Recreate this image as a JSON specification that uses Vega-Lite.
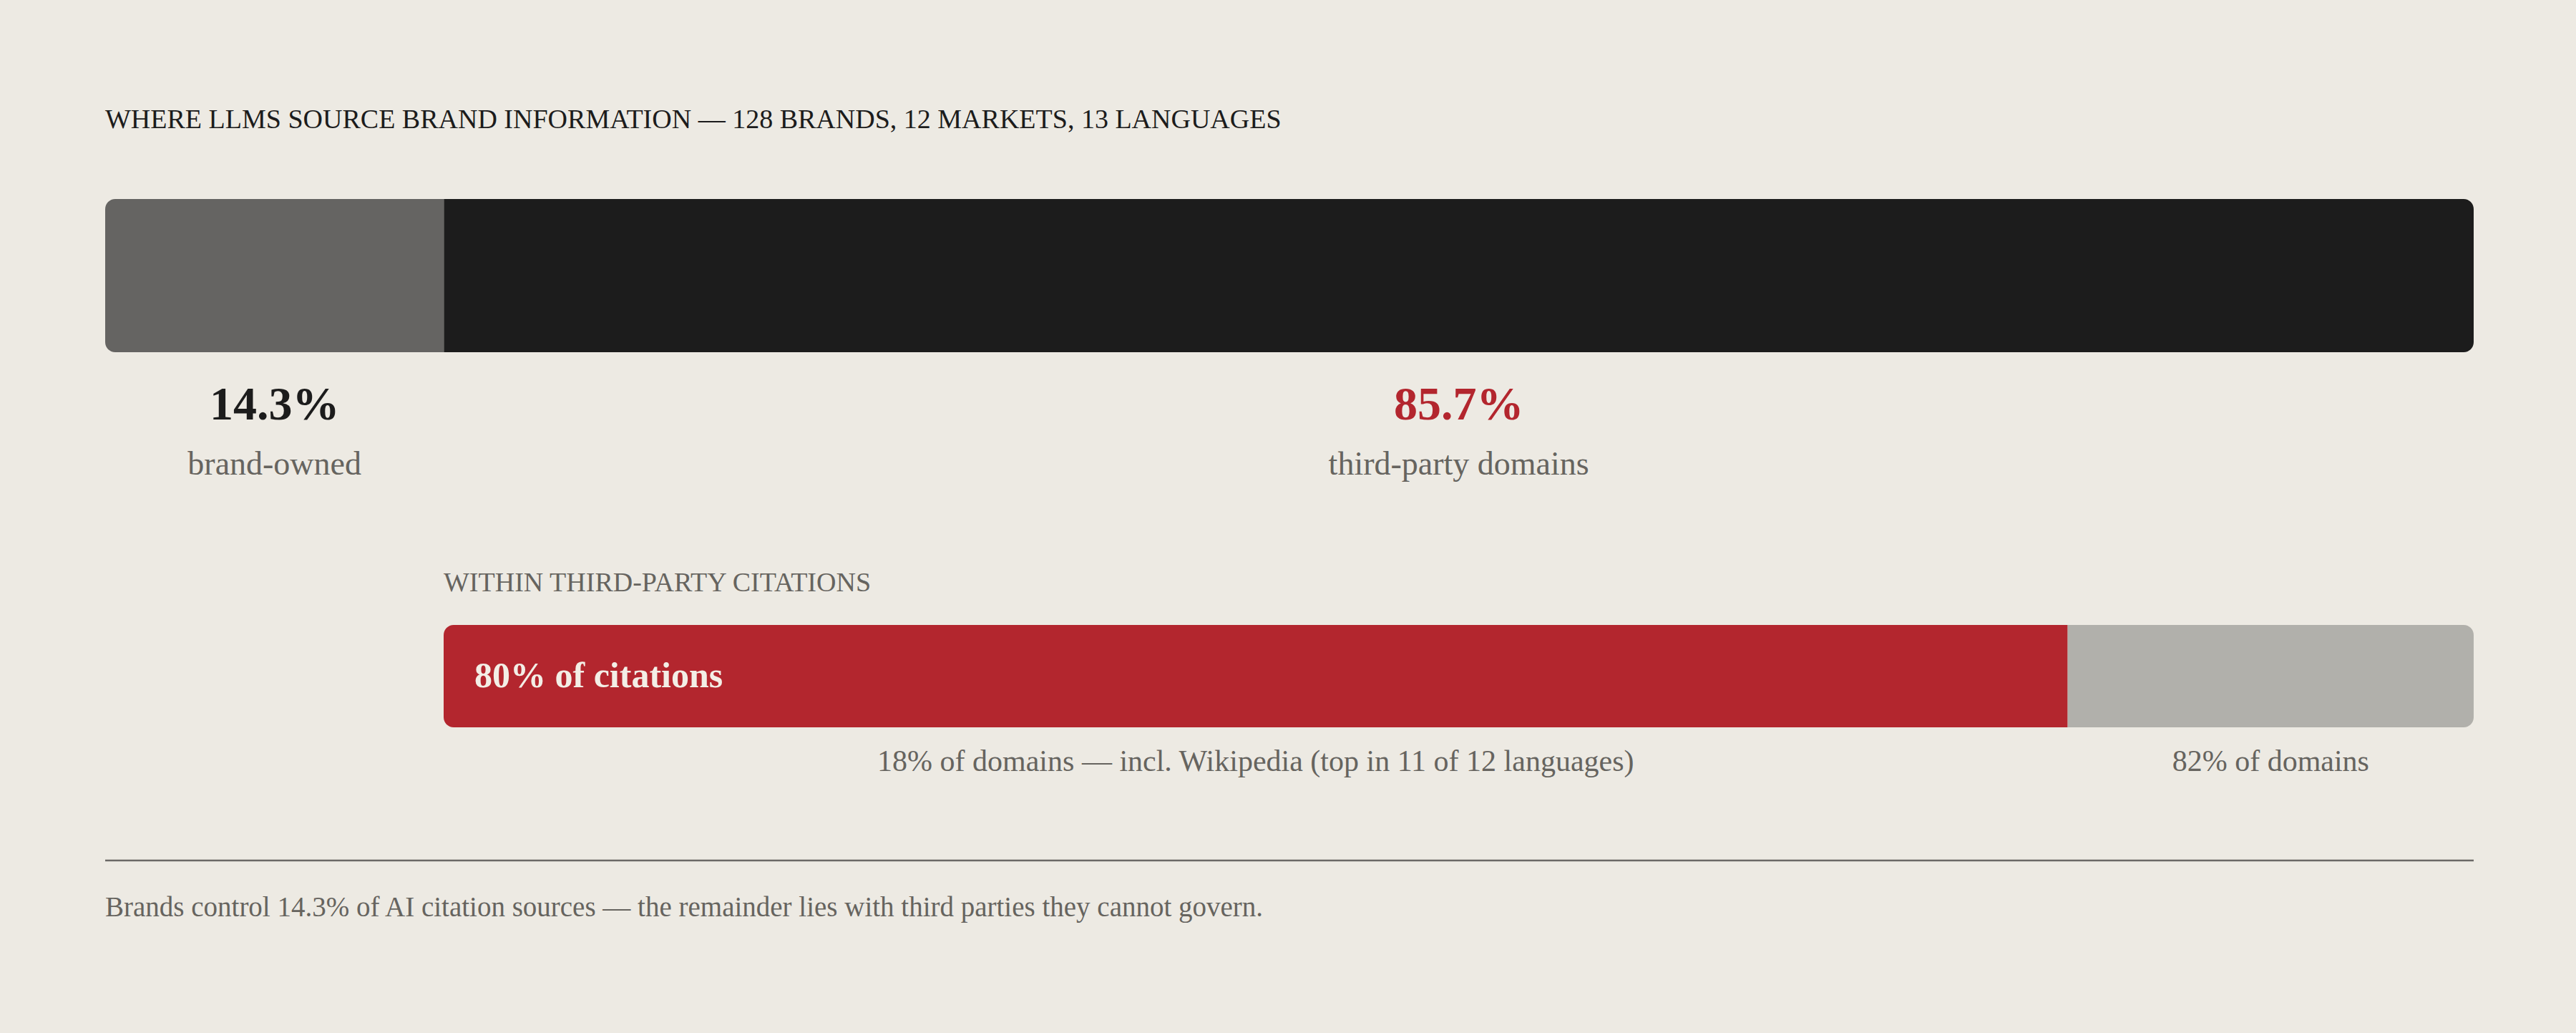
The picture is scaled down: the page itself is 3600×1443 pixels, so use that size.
{
  "$schema": "https://vega.github.io/schema/vega-lite/v6.json",
  "background": "#edeae3",
  "autosize": {"type": "pad"},
  "padding": {"left": 145, "top": 149, "right": 145, "bottom": 160},
  "config": {
    "view": {"stroke": null},
    "font": "Liberation Serif",
    "text": {"font": "Liberation Serif"}
  },
  "spacing": 381,
  "bounds": "flush",
  "vconcat": [
    {
      "width": 3310,
      "height": 214,
      "data": {
        "values": [
          {"segment": "brand-owned", "share": 0.143},
          {"segment": "third-party domains", "share": 0.857}
        ]
      },
      "transform": [
        {"stack": "share", "groupby": [], "as": ["share_start", "share_end"]}
      ],
      "layer": [
        {
          "transform": [{"filter": "datum.segment === 'brand-owned'"}],
          "mark": {"type": "bar", "color": "#656462", "cornerRadiusTopLeft": 14, "cornerRadiusBottomLeft": 14},
          "encoding": {
            "x": {"field": "share_start", "type": "quantitative", "scale": {"domain": [0, 1], "nice": false}, "axis": null},
            "x2": {"field": "share_end"},
            "y": {"value": 0},
            "y2": {"value": "height"}
          }
        },
        {
          "transform": [{"filter": "datum.segment !== 'brand-owned'"}],
          "mark": {"type": "bar", "color": "#1c1c1c", "cornerRadiusTopRight": 14, "cornerRadiusBottomRight": 14},
          "encoding": {
            "x": {"field": "share_start", "type": "quantitative", "axis": null},
            "x2": {"field": "share_end"},
            "y": {"value": 0},
            "y2": {"value": "height"}
          }
        },
        {
          "data": {"values": [{"title": "WHERE LLMS SOURCE BRAND INFORMATION — 128 BRANDS, 12 MARKETS, 13 LANGUAGES"}]},
          "mark": {"type": "text", "align": "left", "baseline": "middle", "fontSize": 38, "color": "#1c1c1c", "dy": -110},
          "encoding": {
            "x": {"datum": 0},
            "y": {"value": 0},
            "text": {"field": "title"}
          }
        },
        {
          "mark": {"type": "text", "align": "center", "baseline": "middle", "fontSize": 66, "fontWeight": "bold", "dy": 74},
          "encoding": {
            "x": {"field": "share", "type": "quantitative", "stack": "zero", "bandPosition": 0.5},
            "y": {"value": "height"},
            "text": {"field": "share", "format": ".1%"},
            "color": {"condition": {"test": "datum.segment === 'brand-owned'", "value": "#1c1c1c"}, "value": "#b3262e"}
          }
        },
        {
          "mark": {"type": "text", "align": "center", "baseline": "middle", "fontSize": 46, "color": "#66645f", "dy": 157},
          "encoding": {
            "x": {"field": "share", "type": "quantitative", "stack": "zero", "bandPosition": 0.5},
            "y": {"value": "height"},
            "text": {"field": "segment"}
          }
        }
      ]
    },
    {
      "spacing": 186,
      "bounds": "flush",
      "vconcat": [
        {
          "width": 3310,
          "height": 143,
          "data": {
            "values": [
              {"segment": "top domains", "share": 0.8, "inside": "80% of citations", "domains": "18% of domains — incl. Wikipedia (top in 11 of 12 languages)"},
              {"segment": "other domains", "share": 0.2, "inside": "", "domains": "82% of domains"}
            ]
          },
          "transform": [
            {"stack": "share", "groupby": [], "as": ["share_start", "share_end"]}
          ],
          "layer": [
            {
              "transform": [{"filter": "datum.segment === 'top domains'"}],
              "mark": {"type": "bar", "color": "#b3262e", "cornerRadiusTopLeft": 14, "cornerRadiusBottomLeft": 14},
              "encoding": {
                "x": {"field": "share_start", "type": "quantitative", "scale": {"domain": [0, 1], "nice": false, "range": [473, 3310]}, "axis": null},
                "x2": {"field": "share_end"},
                "y": {"value": 0},
                "y2": {"value": "height"}
              }
            },
            {
              "transform": [{"filter": "datum.segment !== 'top domains'"}],
              "mark": {"type": "bar", "color": "#b1b0ab", "cornerRadiusTopRight": 14, "cornerRadiusBottomRight": 14},
              "encoding": {
                "x": {"field": "share_start", "type": "quantitative", "axis": null},
                "x2": {"field": "share_end"},
                "y": {"value": 0},
                "y2": {"value": "height"}
              }
            },
            {
              "data": {"values": [{"label": "WITHIN THIRD-PARTY CITATIONS"}]},
              "mark": {"type": "text", "align": "left", "baseline": "middle", "fontSize": 38, "color": "#66645f", "dy": -58},
              "encoding": {
                "x": {"datum": 0},
                "y": {"value": 0},
                "text": {"field": "label"}
              }
            },
            {
              "transform": [{"filter": "datum.segment === 'top domains'"}],
              "mark": {"type": "text", "align": "left", "baseline": "middle", "fontSize": 50, "fontWeight": "bold", "color": "#f3eee6", "dx": 43},
              "encoding": {
                "x": {"field": "share_start", "type": "quantitative"},
                "text": {"field": "inside"}
              }
            },
            {
              "mark": {"type": "text", "align": "center", "baseline": "middle", "fontSize": 42, "color": "#66645f", "dy": 48},
              "encoding": {
                "x": {"field": "share", "type": "quantitative", "stack": "zero", "bandPosition": 0.5},
                "y": {"value": "height"},
                "text": {"field": "domains"}
              }
            }
          ]
        },
        {
          "width": 3310,
          "height": 1,
          "data": {
            "values": [
              {"note": "Brands control 14.3% of AI citation sources — the remainder lies with third parties they cannot govern."}
            ]
          },
          "layer": [
            {
              "mark": {"type": "rule", "color": "#6b6966", "strokeWidth": 2.5},
              "encoding": {
                "x": {"datum": 0, "type": "quantitative", "scale": {"domain": [0, 1], "nice": false}, "axis": null},
                "x2": {"datum": 1},
                "y": {"value": 0}
              }
            },
            {
              "mark": {"type": "text", "align": "left", "baseline": "middle", "fontSize": 39, "color": "#66645f", "dy": 66},
              "encoding": {
                "x": {"datum": 0, "type": "quantitative"},
                "y": {"value": 0},
                "text": {"field": "note"}
              }
            }
          ]
        }
      ]
    }
  ]
}
